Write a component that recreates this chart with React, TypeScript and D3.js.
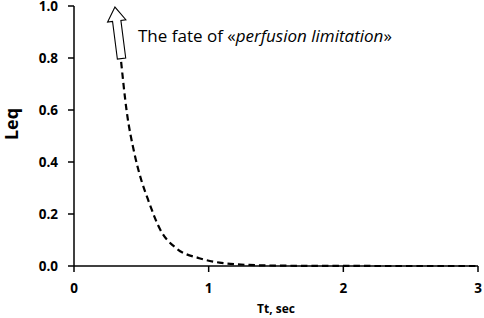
import React from "react";
import * as d3 from "d3";

const ttValues = [0.35, 0.39, 0.45, 0.5, 0.55, 0.64, 0.76, 0.93, 1.08, 1.3, 1.6, 2.0, 2.5, 3.0];
const leqValues = [0.785, 0.6, 0.43, 0.33, 0.255, 0.14, 0.068, 0.03, 0.013, 0.004, 0.001, 0.0003, 0, 0];
const xTicks = [0, 1, 2, 3];
const yTicks = [0, 0.2, 0.4, 0.6, 0.8, 1.0];
const arrowBase = [0.353, 0.798];
const arrowTip = [0.304, 0.996];
const annotationPrefix = "The fate of «";
const annotationItalic = "perfusion limitation";
const annotationSuffix = "»";
const xTitle = "Tt, sec";
const yTitle = "Leq";

const W = 484;
const H = 318;
const left = 74;
const right = 478;
const top = 6;
const bottom = 266;
const font = "'Open Sans', 'Liberation Sans', sans-serif";

export default function App() {
  const x = d3.scaleLinear().domain([0, 3]).range([left, right]);
  const y = d3.scaleLinear().domain([0, 1]).range([bottom, top]);
  const pts: [number, number][] = ttValues.map((t, i) => [t, leqValues[i]]);
  const line = d3
    .line<[number, number]>()
    .x((d) => x(d[0]))
    .y((d) => y(d[1]))
    .curve(d3.curveMonotoneX);

  // block arrow
  const bx = x(arrowBase[0]);
  const by = y(arrowBase[1]);
  const tx = x(arrowTip[0]);
  const ty = y(arrowTip[1]);
  const dx = tx - bx;
  const dy = ty - by;
  const len = Math.hypot(dx, dy);
  const ux = dx / len;
  const uy = dy / len;
  const nx = -uy;
  const ny = ux;
  const shaftHalf = 4.2;
  const headHalf = 9.2;
  const headLen = 14;
  const hx = tx - ux * headLen;
  const hy = ty - uy * headLen;
  const arrowPts: [number, number][] = [
    [bx + nx * shaftHalf, by + ny * shaftHalf],
    [hx + nx * shaftHalf, hy + ny * shaftHalf],
    [hx + nx * headHalf, hy + ny * headHalf],
    [tx, ty],
    [hx - nx * headHalf, hy - ny * headHalf],
    [hx - nx * shaftHalf, hy - ny * shaftHalf],
    [bx - nx * shaftHalf, by - ny * shaftHalf],
  ];

  return (
    <svg
      width={W}
      height={H}
      style={{ position: "absolute", left: 0, top: 0, background: "#fff" }}
      fontFamily={font}
    >
      <rect width={W} height={H} fill="#fff" />
      {/* curve */}
      <path
        d={line(pts) || ""}
        fill="none"
        stroke="#000"
        strokeWidth={2.2}
        strokeDasharray="6.5,4"
      />
      {/* axes */}
      <line x1={left} x2={left} y1={y(1)} y2={bottom} stroke="#000" strokeWidth={1.5} />
      <line x1={left} x2={right} y1={bottom} y2={bottom} stroke="#000" strokeWidth={1.5} />
      {yTicks.map((t) => (
        <g key={"y" + t}>
          <line x1={left - 6} x2={left} y1={y(t)} y2={y(t)} stroke="#000" strokeWidth={1.5} />
          <text
            x={58}
            y={y(t)}
            dy="0.36em"
            textAnchor="end"
            fontSize={13.5}
            fontWeight="bold"
            fill="#000"
          >
            {t.toFixed(1)}
          </text>
        </g>
      ))}
      {xTicks.map((t) => (
        <g key={"x" + t}>
          <line x1={x(t)} x2={x(t)} y1={bottom} y2={bottom + 6} stroke="#000" strokeWidth={1.5} />
          <text
            x={x(t)}
            y={293}
            textAnchor="middle"
            fontSize={13.5}
            fontWeight="bold"
            fill="#000"
          >
            {t}
          </text>
        </g>
      ))}
      <text x={276} y={313} textAnchor="middle" fontSize={12} fontWeight="bold" fill="#000">
        {xTitle}
      </text>
      <text
        transform={`translate(18,124) rotate(-90)`}
        textAnchor="middle"
        fontSize={18}
        fontWeight="bold"
        fill="#000"
      >
        {yTitle}
      </text>
      {/* block arrow */}
      <polygon
        points={arrowPts.map((p) => p.join(",")).join(" ")}
        fill="#fff"
        stroke="#000"
        strokeWidth={1.1}
      />
      <text x={138} y={42} fontSize={17} fill="#000">
        {annotationPrefix}
        <tspan fontStyle="italic">{annotationItalic}</tspan>
        {annotationSuffix}
      </text>
    </svg>
  );
}
